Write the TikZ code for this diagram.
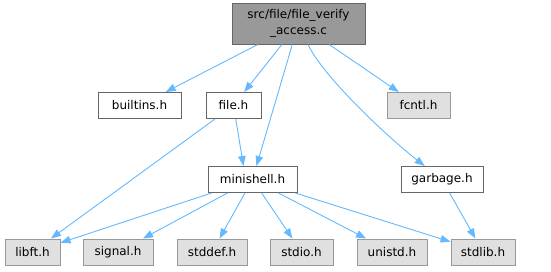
\documentclass[tikz,border=0pt]{standalone}
\usepackage{fontspec}
\setmainfont{DejaVu Sans}
\usetikzlibrary{arrows.meta}
\definecolor{edgeblue}{HTML}{63B8FF}
\definecolor{topgrey}{HTML}{999999}
\definecolor{boxline}{HTML}{666666}
\definecolor{sysfill}{HTML}{E0E0E0}
\definecolor{sysline}{HTML}{999999}
\begin{document}
\begin{tikzpicture}[x=1pt,y=-1pt,
    font=\fontsize{12}{16}\selectfont,
    hdr/.style={draw=boxline, fill=white, line width=1pt, minimum height=26pt, inner sep=0pt},
    syshdr/.style={hdr, draw=sysline, fill=sysfill},
    inc/.style={-{Triangle[length=10pt,width=7.5pt]}, draw=edgeblue, line width=0.9pt}]
    \useasboundingbox (0,0) rectangle (551,271);
    % the file itself
    \node[hdr, fill=topgrey, minimum width=133pt, minimum height=41pt, align=center] (src) at (298.5,23.5) {src/file/file\_verify\\\_access.c};
    % headers of the project
    \node[hdr, minimum width=83pt] (builtins) at (139.5,105.5) {builtins.h};
    \node[hdr, minimum width=55pt] (file) at (233.5,105.5) {file.h};
    \node[syshdr, minimum width=63pt] (fcntl) at (418.5,105.5) {fcntl.h};
    \node[hdr, minimum width=89pt] (minishell) at (252.5,179.5) {minishell.h};
    \node[hdr, minimum width=82pt] (garbage) at (442,179.5) {garbage.h};
    % bottom row
    \node[syshdr, minimum width=55pt] (libft) at (32.5,252) {libft.h};
    \node[syshdr, minimum width=70pt] (signal) at (118,252) {signal.h};
    \node[syshdr, minimum width=70pt] (stddef) at (212,252) {stddef.h};
    \node[syshdr, minimum width=63pt] (stdio) at (301.5,252) {stdio.h};
    \node[syshdr, minimum width=70pt] (unistd) at (392,252) {unistd.h};
    \node[syshdr, minimum width=64pt] (stdlib) at (483,252) {stdlib.h};
    % includes
    \foreach \h in {builtins,file,minishell,fcntl}
    \draw[inc] (src) -- (\h);
    \draw[inc] (src) .. controls (322,75) and (385,135) .. (garbage);
    \draw[inc] (file) -- (libft);
    \draw[inc] (file) -- ([xshift=-9pt]minishell.north);
    \foreach \h in {libft,signal,stddef,stdio,unistd,stdlib}
    \draw[inc] (minishell) -- (\h);
    \draw[inc] (garbage) -- (stdlib);
\end{tikzpicture}
\end{document}
